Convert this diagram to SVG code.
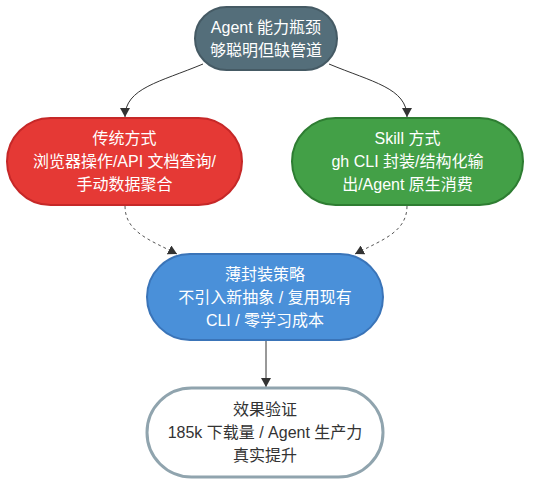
<svg xmlns="http://www.w3.org/2000/svg" width="540" height="490" viewBox="0 0 540 490">
<style>
.t{font-family:"Liberation Sans","Noto Sans CJK SC",sans-serif;font-size:16px;text-anchor:middle;dominant-baseline:central;fill:#fff}
.dark{fill:#333}
.solid{fill:none;stroke:#333;stroke-width:1}
.dash{fill:none;stroke:#555;stroke-width:1;stroke-dasharray:3 3}
</style>
<defs>
<marker id="ah" markerUnits="userSpaceOnUse" markerWidth="10" markerHeight="10" refX="9" refY="5" orient="auto">
<path d="M0,0 L9,5 L0,10 Z" fill="#333"/>
</marker>
</defs>
<rect width="540" height="490" fill="#fff"/>
<g id="connectors">
<path class="solid" d="M203,64 C160,82 125,88 125,117" marker-end="url(#ah)"/>
<path class="solid" d="M329,64 C372,82 407,88 407,117" marker-end="url(#ah)"/>
<path class="dash" d="M125,206 C125,232 150,240 177,254" marker-end="url(#ah)"/>
<path class="dash" d="M407,206 C407,232 382,240 355,254" marker-end="url(#ah)"/>
<path class="solid" d="M266,341 L266,387" marker-end="url(#ah)"/>
</g>
<g id="n1">
<rect x="195" y="7" width="142" height="63" rx="31.5" fill="#546e7a" stroke="#455a64" stroke-width="2"/>
<text class="t" x="266" y="27">Agent 能力瓶颈</text>
<text class="t" x="266" y="50">够聪明但缺管道</text>
</g>
<g id="n2">
<rect x="7" y="118" width="235" height="87" rx="43.5" fill="#e53935" stroke="#c62828" stroke-width="2"/>
<text class="t" x="124.5" y="138.5">传统方式</text>
<text class="t" x="124.5" y="161.5">浏览器操作/API 文档查询/</text>
<text class="t" x="124.5" y="184.5">手动数据聚合</text>
</g>
<g id="n3">
<rect x="292" y="118" width="231" height="87" rx="43.5" fill="#43a047" stroke="#2e7d32" stroke-width="2"/>
<text class="t" x="407.5" y="138.5">Skill 方式</text>
<text class="t" x="407.5" y="161.5">gh CLI 封装/结构化输</text>
<text class="t" x="407.5" y="184.5">出/Agent 原生消费</text>
</g>
<g id="n4">
<rect x="147" y="254" width="236" height="86" rx="43" fill="#4a90d9" stroke="#3a74b8" stroke-width="2"/>
<text class="t" x="265" y="274">薄封装策略</text>
<text class="t" x="265" y="297">不引入新抽象 / 复用现有</text>
<text class="t" x="265" y="320">CLI / 零学习成本</text>
</g>
<g id="n5">
<rect x="147" y="388" width="236" height="89" rx="44.5" fill="#fff" stroke="#90a4ae" stroke-width="3"/>
<text class="t dark" x="265" y="409">效果验证</text>
<text class="t dark" x="265" y="432">185k 下载量 / Agent 生产力</text>
<text class="t dark" x="265" y="455">真实提升</text>
</g>
</svg>
